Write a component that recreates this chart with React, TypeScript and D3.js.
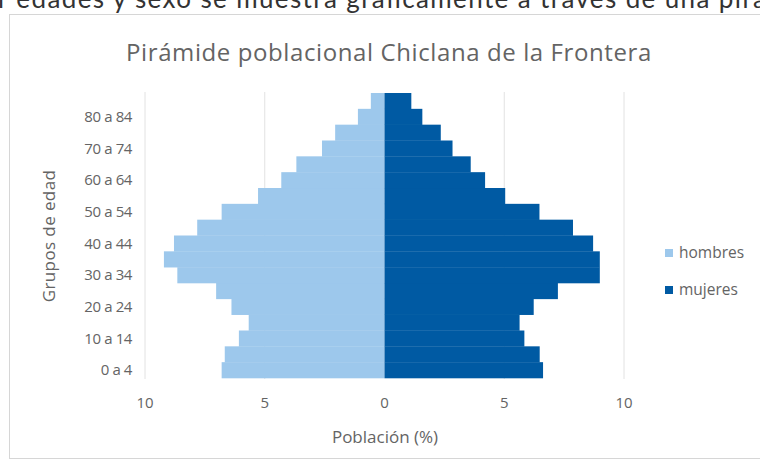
import React from "react";
import * as d3 from "d3";

const ageGroups = [
  "0 a 4", "5 a 9", "10 a 14", "15 a 19", "20 a 24", "25 a 29", "30 a 34", "35 a 39",
  "40 a 44", "45 a 49", "50 a 54", "55 a 59", "60 a 64", "65 a 69", "70 a 74", "75 a 79",
  "80 a 84", "85 y más",
];
const hombres = [6.8, 6.67, 6.08, 5.67, 6.39, 7.03, 8.65, 9.21, 8.79, 7.82, 6.8, 5.28, 4.31, 3.68, 2.61, 2.06, 1.11, 0.57];
const mujeres = [6.62, 6.48, 5.84, 5.64, 6.23, 7.24, 8.99, 8.99, 8.71, 7.87, 6.47, 5.04, 4.2, 3.6, 2.84, 2.35, 1.58, 1.12];
const xTicks = [-10, -5, 0, 5, 10];
const seriesNames = ["hombres", "mujeres"];
const title = "Pirámide poblacional Chiclana de la Frontera";
const xTitle = "Población (%)";
const yTitle = "Grupos de edad";
const docText = "r edades y sexo se muestra gráficamente a través de una pirá";

const W = 760;
const H = 461;
const colors = ["#9DC8EC", "#005AA3"];
const FONT = "'Open Sans', 'Liberation Sans', sans-serif";
const TXT = "#646464";

export default function App() {
  const x = d3.scaleLinear().domain([-10, 10]).range([145, 624]);
  const y = d3.scaleBand<string>().domain(ageGroups.slice().reverse()).range([93, 378]).paddingInner(0).paddingOuter(0);
  const bw = y.bandwidth();

  return (
    <svg width={W} height={H} style={{ position: "absolute", left: 0, top: 0, background: "#fff" }}>
      <text x={-2} y={8} fontFamily="Lato, sans-serif" fontSize={26} fill="#333" textLength={768} lengthAdjust="spacing">
        {docText}
      </text>
      <rect x={9.5} y={14.5} width={770} height={444} fill="#fff" stroke="#d6d6d6" />
      <text x={389} y={61} textAnchor="middle" fontFamily={FONT} fontSize={24} letterSpacing={0.6} fill={TXT}>
        {title}
      </text>
      {xTicks.filter((t) => t !== 0).map((t) => (
        <line key={t} x1={x(t)} x2={x(t)} y1={92} y2={379} stroke="#e2e2e2" />
      ))}
      {ageGroups.map((g, i) => (
        <g key={g}>
          <rect x={x(-hombres[i])} y={y(g)} width={x(0) - x(-hombres[i])} height={bw + 0.3} fill={colors[0]} />
          <rect x={x(0)} y={y(g)} width={x(mujeres[i]) - x(0)} height={bw + 0.3} fill={colors[1]} />
        </g>
      ))}
      {ageGroups.map((g, i) =>
        i % 2 === 0 ? (
          <text key={g} x={132} y={(y(g) as number) + bw / 2} dy="0.35em" textAnchor="end" fontFamily={FONT} fontSize={15} fill={TXT} letterSpacing={-0.4}>
            {g}
          </text>
        ) : null
      )}
      {xTicks.map((t) => (
        <text key={t} x={x(t)} y={403} dy="0.35em" textAnchor="middle" fontFamily={FONT} fontSize={15} fill={TXT}>
          {Math.abs(t)}
        </text>
      ))}
      <text x={385} y={437} dy="0.35em" textAnchor="middle" fontFamily={FONT} fontSize={17} fill={TXT}>
        {xTitle}
      </text>
      <text transform="translate(49,236) rotate(-90)" dy="0.35em" textAnchor="middle" fontFamily={FONT} fontSize={17} letterSpacing={0.4} fill={TXT}>
        {yTitle}
      </text>
      {seriesNames.map((s, i) => (
        <g key={s} transform={`translate(665, ${253 + i * 37})`}>
          <rect x={0} y={-4} width={8} height={8} fill={colors[i]} />
          <text x={14} y={0} dy="0.35em" fontFamily={FONT} fontSize={15.5} fill={TXT}>
            {s}
          </text>
        </g>
      ))}
    </svg>
  );
}
